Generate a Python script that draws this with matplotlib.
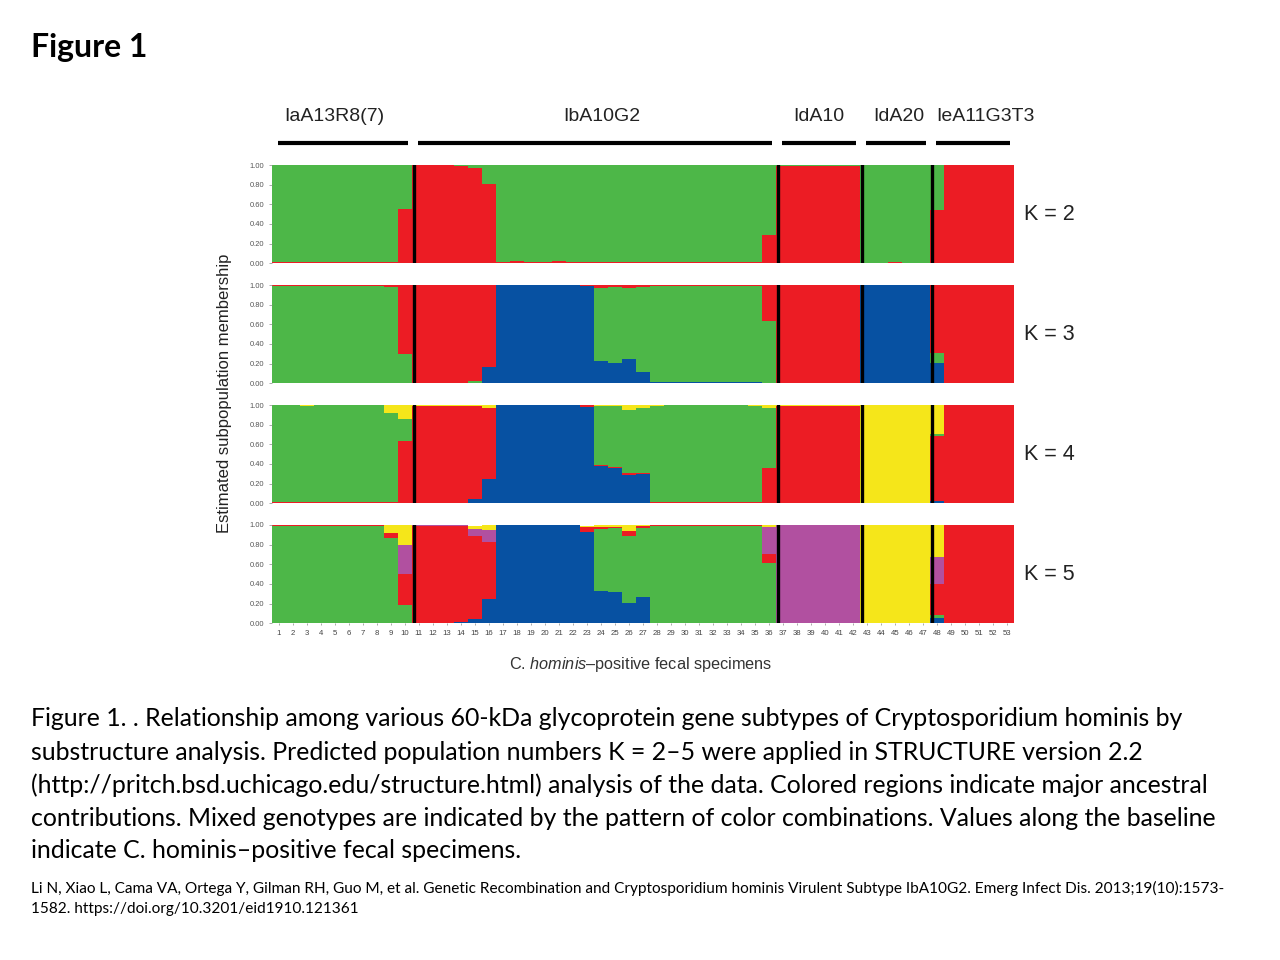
import matplotlib
matplotlib.use("Agg")
import matplotlib.pyplot as plt
import numpy as np

# ---------------- data ----------------
specimens = list(range(1, 54))
group_names = ["IaA13R8(7)", "IbA10G2", "IdA10", "IdA20", "IeA11G3T3"]
group_sizes = [10, 26, 6, 5, 6]
k_labels = ["K = 2", "K = 3", "K = 4", "K = 5"]
ytick_vals = [0.0, 0.2, 0.4, 0.6, 0.8, 1.0]
ytick_labels = ["0.00", "0.20", "0.40", "0.60", "0.80", "1.00"]

# K = 2 (bottom -> top: red, green)
k2_red = ([0.01] * 9 + [0.55] + [1.00, 1.00, 1.00, 0.99, 0.97, 0.81]
          + [0.01, 0.02, 0.01, 0.01, 0.02, 0.01, 0.01, 0.01, 0.01, 0.01,
             0.01, 0.01, 0.01, 0.01, 0.01, 0.01, 0.01, 0.01, 0.01]
          + [0.29] + [0.99] * 6 + [0.00, 0.00, 0.01, 0.00, 0.00] + [0.54] + [1.00] * 5)
k2_green = ([0.99] * 9 + [0.45] + [0.00, 0.00, 0.00, 0.01, 0.03, 0.19]
            + [0.99, 0.98, 0.99, 0.99, 0.98, 0.99, 0.99, 0.99, 0.99, 0.99,
               0.99, 0.99, 0.99, 0.99, 0.99, 0.99, 0.99, 0.99, 0.99]
            + [0.71] + [0.01] * 6 + [1.00, 1.00, 0.99, 1.00, 1.00] + [0.46] + [0.00] * 5)

# K = 3 (bottom -> top: blue, green, red)
k3_blue = ([0.00] * 14 + [0.00, 0.17] + [1.00] * 6 + [0.99]
           + [0.23, 0.21, 0.25, 0.12] + [0.01] * 8 + [0.00] + [0.00] * 6
           + [1.00] * 5 + [0.21] + [0.00] * 5)
k3_green = ([0.99] * 8 + [0.98, 0.30] + [0.00, 0.00, 0.00, 0.00, 0.02, 0.00]
            + [0.00] * 6 + [0.00] + [0.74, 0.77, 0.72, 0.86] + [0.98] * 8 + [0.63]
            + [0.00] * 6 + [0.00] * 5 + [0.10] + [0.00] * 5)
k3_red = ([0.01] * 8 + [0.02, 0.70] + [1.00, 1.00, 1.00, 1.00, 0.98, 0.83]
          + [0.00] * 6 + [0.01] + [0.03, 0.02, 0.03, 0.02] + [0.01] * 8 + [0.37]
          + [1.00] * 6 + [0.00] * 5 + [0.69] + [1.00] * 5)

# K = 4 (bottom -> top: blue, red, green, yellow)
k4_blue = ([0.00] * 14 + [0.04, 0.25] + [1.00] * 6 + [0.98]
           + [0.38, 0.36, 0.29, 0.30] + [0.00] * 8 + [0.00] + [0.00] * 6
           + [0.00] * 5 + [0.02] + [0.00] * 5)
k4_red = ([0.01] * 8 + [0.01, 0.63] + [0.99, 0.99, 0.99, 0.99, 0.95, 0.72]
          + [0.00] * 6 + [0.02] + [0.01, 0.01, 0.02, 0.01] + [0.01] * 8 + [0.36]
          + [0.99] * 6 + [0.00] * 5 + [0.66] + [1.00] * 5)
k4_green = ([0.99, 0.99, 0.98, 0.99, 0.99, 0.99, 0.99, 0.99] + [0.905, 0.23]
            + [0.00] * 6 + [0.00] * 6 + [0.00] + [0.60, 0.62, 0.64, 0.66]
            + [0.98, 0.99, 0.99, 0.99, 0.99, 0.99, 0.99, 0.98] + [0.61]
            + [0.00] * 6 + [0.00] * 5 + [0.03] + [0.00] * 5)
k4_yellow = ([0.00, 0.00, 0.01, 0.00, 0.00, 0.00, 0.00, 0.00] + [0.085, 0.14]
             + [0.01, 0.01, 0.01, 0.01, 0.01, 0.03] + [0.00] * 6 + [0.00]
             + [0.01, 0.01, 0.05, 0.03] + [0.01, 0.00, 0.00, 0.00, 0.00, 0.00, 0.00, 0.01]
             + [0.03] + [0.01] * 6 + [1.00] * 5 + [0.29] + [0.00] * 5)

# K = 5 (bottom -> top: blue, green, red, purple, yellow)
k5_blue = ([0.00] * 13 + [0.01, 0.04, 0.25] + [1.00] * 6 + [0.93]
           + [0.33, 0.32, 0.21, 0.27] + [0.00] * 8 + [0.00] + [0.00] * 6
           + [0.00] * 5 + [0.05] + [0.00] * 5)
k5_green = ([0.99] * 8 + [0.87, 0.19] + [0.00] * 6 + [0.00] * 7
            + [0.63, 0.65, 0.68, 0.70] + [0.99] * 8 + [0.61] + [0.00] * 6
            + [0.00] * 5 + [0.03] + [0.00] * 5)
k5_red = ([0.01] * 8 + [0.045, 0.31] + [0.99, 0.99, 0.99, 0.98, 0.85, 0.58]
          + [0.00] * 6 + [0.05] + [0.02, 0.01, 0.05, 0.02] + [0.01] * 8 + [0.09]
          + [0.00] * 6 + [0.00] * 5 + [0.32] + [1.00] * 5)
k5_purple = ([0.00] * 8 + [0.00, 0.30] + [0.01, 0.01, 0.01, 0.01, 0.07, 0.12]
             + [0.00] * 6 + [0.00] + [0.00] * 4 + [0.00] * 8 + [0.28]
             + [1.00] * 6 + [0.00] * 5 + [0.27] + [0.00] * 5)
k5_yellow = ([0.00] * 8 + [0.085, 0.20] + [0.00, 0.00, 0.00, 0.00, 0.03, 0.05]
             + [0.00] * 6 + [0.01] + [0.02, 0.02, 0.06, 0.01] + [0.00] * 8 + [0.02]
             + [0.00] * 6 + [1.00] * 5 + [0.33] + [0.00] * 5)

# ---------------- style ----------------
C = {"green": "#4db748", "red": "#ec1c24", "blue": "#0751a2",
     "yellow": "#f5e61a", "purple": "#b150a0"}

panels = [
    [("red", k2_red), ("green", k2_green)],
    [("blue", k3_blue), ("green", k3_green), ("red", k3_red)],
    [("blue", k4_blue), ("red", k4_red), ("green", k4_green), ("yellow", k4_yellow)],
    [("blue", k5_blue), ("green", k5_green), ("red", k5_red),
     ("purple", k5_purple), ("yellow", k5_yellow)],
]

plt.rcParams["mathtext.fontset"] = "custom"
plt.rcParams["mathtext.rm"] = "Liberation Sans"
plt.rcParams["mathtext.it"] = "Liberation Sans:italic"

W, H = 1280, 960
fig = plt.figure(figsize=(12.8, 9.6), dpi=100)

ax_left = 271.7 / W
ax_w = 742.3 / W
ax_hpx = 98.3
tops = [165, 285, 405, 525]

x = np.array(specimens)
boundaries = np.cumsum(group_sizes)[:-1] + 0.5
axes = []
for i, (top, comps) in enumerate(zip(tops, panels)):
    ax = fig.add_axes([ax_left, 1 - (top + ax_hpx) / H, ax_w, ax_hpx / H])
    axes.append(ax)
    bottom = np.zeros(len(x))
    for cname, vals in comps:
        v = np.array(vals, dtype=float)
        ax.bar(x, v, bottom=bottom, width=1.0, color=C[cname], linewidth=0,
               edgecolor="none", align="center")
        bottom = bottom + v
    for b in boundaries:
        ax.axvline(b + 0.15, color="black", lw=2.4, zorder=5)
    ax.set_xlim(0.5, len(x) + 0.5)
    ax.set_ylim(0, 1)
    for s in ax.spines.values():
        s.set_visible(False)
    ax.set_yticks(ytick_vals)
    ax.set_yticklabels(ytick_labels, fontsize=5.4, color="#555555",
                       family="Liberation Sans")
    ax.tick_params(axis="y", length=2.5, width=0.5, color="#888888", pad=3)
    if i == 3:
        ax.set_xticks(x)
        ax.set_xticklabels([str(s) for s in specimens], fontsize=5.6,
                           color="#444444", family="Liberation Sans")
        ax.tick_params(axis="x", length=1.5, width=0.5, color="#888888", pad=3)
    else:
        ax.set_xticks([])
    ax.text(1.0135, 0.5, k_labels[i], transform=ax.transAxes, ha="left",
            va="center", fontsize=15.5, color="#222222", family="Liberation Sans")

# group headers
top_ax = axes[0]
start = 0.5
label_shift = [-0.6, 0.5, 0.0, 0.2, 0.9]
for name, n, sh in zip(group_names, group_sizes, label_shift):
    a, b = start + 0.45, start + n - 0.3
    top_ax.plot([a, b], [1.224, 1.224], color="black", lw=3.0,
                solid_capstyle="butt", clip_on=False,
                transform=top_ax.get_xaxis_transform())
    top_ax.text((a + b) / 2 + sh, 1.49, name, ha="center", va="center",
                fontsize=14, color="#222222", family="Liberation Sans",
                transform=top_ax.get_xaxis_transform())
    start += n

# axis labels
fig.text(225 / W, 1 - 393 / H, "Estimated subpopulation membership",
         rotation=90, ha="center", va="center", fontsize=12,
         color="#222222", family="Liberation Sans")
fig.text(641 / W, 1 - 664 / H, r"C. $\mathit{hominis}$–positive fecal specimens",
         ha="center", va="center", fontsize=11.7, color="#333333",
         family="Liberation Sans")

# slide text
fig.text(31 / W, 1 - 47 / H, "Figure 1", ha="left", va="center",
         fontsize=23, fontweight="bold", family="Lato", color="black")

caption = [
    "Figure 1. . Relationship among various 60-kDa glycoprotein gene subtypes of Cryptosporidium hominis by",
    "substructure analysis. Predicted population numbers K = 2–5 were applied in STRUCTURE version 2.2",
    "(http://pritch.bsd.uchicago.edu/structure.html) analysis of the data. Colored regions indicate major ancestral",
    "contributions. Mixed genotypes are indicated by the pattern of color combinations. Values along the baseline",
    "indicate C. hominis–positive fecal specimens.",
]
for j, line in enumerate(caption):
    fig.text(31 / W, 1 - (719 + 33 * j) / H, line, ha="left", va="center",
             fontsize=17.9, family="Lato", color="black")

citation = [
    "Li N, Xiao L, Cama VA, Ortega Y, Gilman RH, Guo M, et al. Genetic Recombination and Cryptosporidium hominis Virulent Subtype IbA10G2. Emerg Infect Dis. 2013;19(10):1573-",
    "1582. https://doi.org/10.3201/eid1910.121361",
]
for j, line in enumerate(citation):
    fig.text(31 / W, 1 - (888 + 21 * j) / H, line, ha="left", va="center",
             fontsize=11.1, family="Lato", color="black")

fig.savefig("out.png", dpi=100)
